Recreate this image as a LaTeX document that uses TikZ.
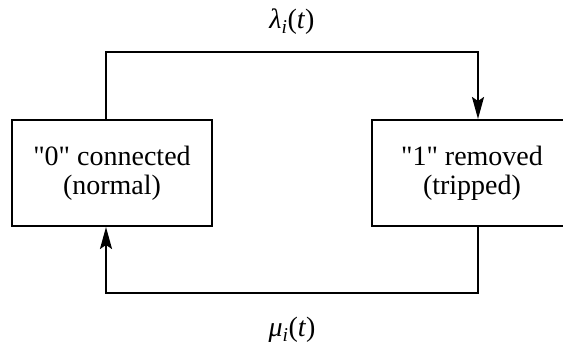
\documentclass[tikz,border=0pt]{standalone}
\usepackage{fontspec}
\setmainfont[Ligatures=Common]{Liberation Serif}
\newfontfamily\statefont[Ligatures=Common]{Liberation Serif}
\usetikzlibrary{arrows.meta}

\begin{document}
\begin{tikzpicture}[x=1pt,y=-1pt,
		state/.style={draw,line width=2pt,minimum width=200pt,minimum height=106pt,align=center,font=\statefont\fontsize{28}{29}\selectfont},
		link/.style={line width=2pt,-{Stealth[length=22pt,width=12pt,inset=4pt]}},
		rate/.style={font=\statefont\fontsize{28}{29}\selectfont}]
	\useasboundingbox (0,0) rectangle (563,347);
	% the two states
	\node[state] (normal) at (112,173) {\textquotedbl 0\textquotedbl\ connected\\(normal)};
	\node[state] (tripped) at (472,173) {\textquotedbl 1\textquotedbl\ removed\\(tripped)};
	% transition 0 -> 1
	\coordinate (upfrom) at ([xshift=-6pt]normal.north);
	\coordinate (upto) at ([xshift=6pt]tripped.north);
	\draw[link] (upfrom) -- ++(0,-67) -| (upto);
	% transition 1 -> 0
	\coordinate (downfrom) at ([xshift=6pt]tripped.south);
	\coordinate (downto) at ([xshift=-6pt]normal.south);
	\draw[link] (downfrom) -- ++(0,66) -| (downto);
	% rates
	\node[rate] (lam) at (292,22) {\textit{λ}\textsubscript{\textit{i}}(\textit{t})};
	\node[rate] (mu) at (292,330) {\textit{μ}\textsubscript{\textit{i}}(\textit{t})};
\end{tikzpicture}
\end{document}
